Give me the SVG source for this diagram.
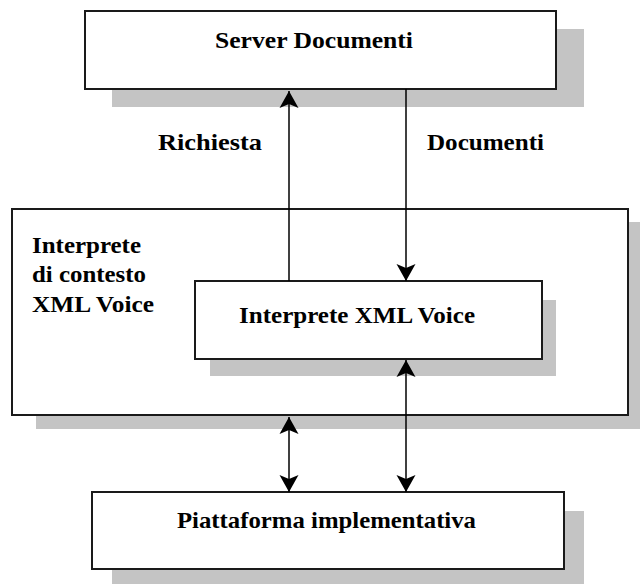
<svg xmlns="http://www.w3.org/2000/svg" width="640" height="584" viewBox="0 0 640 584">
  <style>
    .shadow { fill: #c4c4c4; }
    .box { fill: #ffffff; stroke: #1a1a1a; stroke-width: 2; }
    .label { font-family: "Liberation Serif", "Times New Roman", serif; font-weight: bold; font-size: 24px; fill: #000000; }
    .wire { stroke: #000000; stroke-width: 1.5; fill: none; }
  </style>
  <defs>
    <marker id="arrow" viewBox="0 0 18 20" refX="17" refY="10" markerWidth="18" markerHeight="20" markerUnits="userSpaceOnUse" orient="auto-start-reverse">
      <path d="M17,10 L0,0.5 L4,10 L0,19.5 Z" fill="#000000"/>
    </marker>
  </defs>

  <rect width="640" height="584" fill="#ffffff"/>

  <!-- document server -->
  <g id="server">
    <rect class="shadow" x="112" y="29" width="472" height="78"/>
    <rect class="box" x="85" y="11" width="471" height="78"/>
    <text class="label" x="215" y="48" textLength="198" lengthAdjust="spacingAndGlyphs">Server Documenti</text>
  </g>

  <!-- context interpreter (outer) -->
  <g id="context">
    <rect class="shadow" x="36" y="222" width="616" height="207"/>
    <rect class="box" x="12" y="209" width="616" height="206"/>
    <text class="label" x="32" y="253" textLength="109" lengthAdjust="spacingAndGlyphs">Interprete</text>
    <text class="label" x="32" y="282" textLength="114" lengthAdjust="spacingAndGlyphs">di contesto</text>
    <text class="label" x="32" y="312" textLength="122" lengthAdjust="spacingAndGlyphs">XML Voice</text>
  </g>

  <!-- XML Voice interpreter (inner) -->
  <g id="interpreter">
    <rect class="shadow" x="210" y="300" width="346" height="76"/>
    <rect class="box" x="195" y="281" width="347" height="78"/>
    <text class="label" x="239" y="323" textLength="236" lengthAdjust="spacingAndGlyphs">Interprete XML Voice</text>
  </g>

  <!-- implementation platform -->
  <g id="platform">
    <rect class="shadow" x="112" y="511" width="472" height="76"/>
    <rect class="box" x="92" y="492" width="472" height="77"/>
    <text class="label" x="177" y="528" textLength="299" lengthAdjust="spacingAndGlyphs">Piattaforma implementativa</text>
  </g>

  <!-- edge labels -->
  <g id="edge-labels">
    <text class="label" x="158" y="150" textLength="104" lengthAdjust="spacingAndGlyphs">Richiesta</text>
    <text class="label" x="427" y="150" textLength="117" lengthAdjust="spacingAndGlyphs">Documenti</text>
  </g>

  <!-- connectors -->
  <g id="connectors">
    <line class="wire" x1="289" y1="281" x2="289" y2="91" marker-end="url(#arrow)"/>
    <line class="wire" x1="406" y1="89" x2="406" y2="281" marker-end="url(#arrow)"/>
    <line class="wire" x1="289" y1="417" x2="289" y2="492" marker-start="url(#arrow)" marker-end="url(#arrow)"/>
    <line class="wire" x1="406" y1="360" x2="406" y2="492" marker-start="url(#arrow)" marker-end="url(#arrow)"/>
  </g>
</svg>
